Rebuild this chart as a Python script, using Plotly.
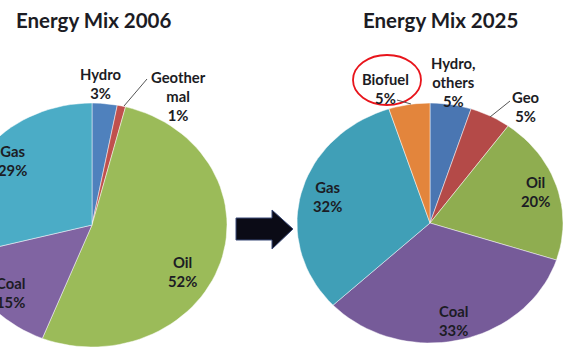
import numpy as np
import plotly.graph_objects as go

# ---- data -------------------------------------------------------------
names_2006 = ["Hydro", "Geother<br>mal", "Oil", "Coal", "Gas"]
shares_2006 = [3, 1, 52, 15, 29]

names_2025 = ["Hydro,<br>others", "Geo", "Oil", "Coal", "Gas", "Biofuel"]
shares_2025 = [5, 5, 20, 33, 32, 5]

# ---- styling ----------------------------------------------------------
colors_2006 = ["#4F81BD", "#C0504D", "#9BBB59", "#8064A2", "#4BACC6"]
colors_2025 = ["#4A76B2", "#B44A48", "#8FAD50", "#765B99", "#409FB7", "#E3853C"]

W, H = 565, 348
FONT = "Lato"
TXT = "#1c1c24"

# pie geometry in pixel units (centre x, centre y, radius x, radius y)
geom_2006 = (92, 225, 135, 122)
geom_2025 = (430, 223, 133, 120)

# label anchor points (pixels)
label_pos_2006 = [(100, 83), (178, 96), (182, 271), (10, 292), (12, 160)]
label_pos_2025 = [(453, 82), (525, 106), (535, 191), (453, 320), (327, 196), (385, 88)]


def slice_path(cx, cy, rx, ry, a0, a1, n=120):
    """Polygon for a wedge going clockwise from 12 o'clock, angles in degrees."""
    t = np.radians(np.linspace(a0, a1, max(int(n * (a1 - a0) / 360), 2) + 1))
    xs = np.concatenate([[cx], cx + rx * np.sin(t), [cx]])
    ys = np.concatenate([[cy], cy - ry * np.cos(t), [cy]])
    return xs, ys


fig = go.Figure()


def add_pie(names, shares, colors, geom, label_pos):
    cx, cy, rx, ry = geom
    total = float(sum(shares))
    start = 0.0
    for name, v, c, (lx, ly) in zip(names, shares, colors, label_pos):
        span = 360.0 * v / total
        xs, ys = slice_path(cx, cy, rx, ry, start, start + span)
        fig.add_trace(go.Scatter(
            x=xs, y=ys, mode="lines", fill="toself", fillcolor=c,
            line=dict(color="rgba(255,255,255,0.6)", width=0.8),
            hoverinfo="skip", showlegend=False,
        ))
        fig.add_annotation(
            x=lx, y=ly, xref="x", yref="y", showarrow=False,
            text=f"{name}<br>{v}%", align="center",
            font=dict(family=FONT, size=14.8, color=TXT, weight=700),
        )
        start += span


add_pie(names_2006, shares_2006, colors_2006, geom_2006, label_pos_2006)
add_pie(names_2025, shares_2025, colors_2025, geom_2025, label_pos_2025)

# titles
for text, x in [("Energy Mix 2006", 94), ("Energy Mix 2025", 440)]:
    fig.add_annotation(x=x, y=20, xref="x", yref="y", showarrow=False, text=text,
                       font=dict(family=FONT, size=20.5, color=TXT, weight=700))

shapes = [
    # arrow between the pies
    dict(type="path", xref="x", yref="y",
         path="M 236 218 L 272 218 L 272 210 L 293 229 L 272 249 L 272 240 L 236 240 Z",
         fillcolor="#0b0b16", line=dict(color="#3b4a78", width=1)),
    # highlight ring around the biofuel label
    dict(type="circle", xref="x", yref="y", x0=353, x1=421, y0=55, y1=105,
         line=dict(color="#E8141B", width=1.8)),
    # leader lines
    dict(type="line", xref="x", yref="y", x0=147, y0=79, x1=124, y1=106,
         line=dict(color="#555", width=1)),
    dict(type="line", xref="x", yref="y", x0=397, y0=100, x1=411, y1=104,
         line=dict(color="#555", width=1)),
    dict(type="line", xref="x", yref="y", x0=510, y0=101, x1=490, y1=117,
         line=dict(color="#555", width=1)),
]

fig.update_layout(
    width=W, height=H,
    margin=dict(l=0, r=0, t=0, b=0),
    paper_bgcolor="white", plot_bgcolor="white",
    xaxis=dict(range=[0, W], visible=False, fixedrange=True),
    yaxis=dict(range=[H, 0], visible=False, fixedrange=True),
    shapes=shapes,
)

fig.write_html("out.html")
